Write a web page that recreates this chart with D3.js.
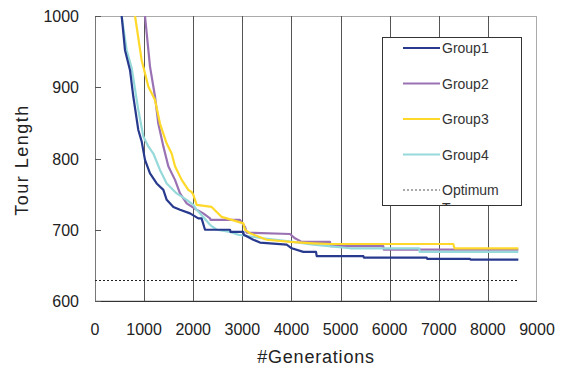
<html>
  <head>
    <script src="https://cdnjs.cloudflare.com/ajax/libs/d3/7.8.5/d3.min.js"></script>
    <style>
      body { margin: 0; background: #fff; }
      text { font-family: "Liberation Sans", Arial, sans-serif; fill: #222; }
    </style>
  </head>
  <body>
    <svg id="chart" width="565" height="369"></svg>
    <script>
      // [generation, tour length]
      let group1 = [[543,1000],[611,952],[713,924],[780,887],[882,840],[950,824],[1018,798],[1120,779],[1256,765],[1392,756],[1460,742],[1596,732],[1731,728],[1935,723],[2104,716],[2170,716],[2240,700],[2749,700],[2760,697],[3020,697],[3030,693],[3224,686],[3360,682],[3903,679],[4005,674],[4242,669],[4500,669],[4515,663],[5465,663],[5475,661],[6754,661],[6764,659],[7636,659],[7646,658],[8620,658]];
      let group2 = [[1018,1000],[1120,929],[1222,887],[1289,849],[1392,817],[1493,789],[1629,770],[1731,751],[1867,737],[2071,728],[2205,723],[2342,716],[2352,714],[2952,714],[3054,704],[3088,696],[3970,694],[4072,688],[4209,683],[4785,683],[4795,677],[5870,677],[5880,672],[8620,672]];
      let group3 = [[815,1000],[950,938],[1086,901],[1222,882],[1323,849],[1460,821],[1561,807],[1629,789],[1765,770],[1900,756],[1968,753],[2002,749],[2071,735],[2376,732],[2478,725],[2580,718],[3020,709],[3054,700],[3156,695],[3495,686],[3970,683],[4445,681],[4785,680],[7296,680],[7320,674],[8620,674]];
      let group4 = [[543,1000],[645,952],[747,927],[882,868],[984,831],[1086,817],[1188,807],[1323,784],[1460,765],[1663,751],[1867,742],[2002,735],[2071,728],[2205,718],[2342,707],[2478,700],[2749,697],[2918,693],[3427,688],[4038,683],[4445,679],[5193,674],[6600,674],[6612,669],[8620,669]];
      let optimum = 629;
      let optimumRange = [0, 8620];

      let seriesNames = ["Group1", "Group2", "Group3", "Group4"];
      let seriesColors = ["#283a8e", "#9a72b4", "#ffd92a", "#96d9da"];
      let xTicks = [0,1000,2000,3000,4000,5000,6000,7000,8000,9000];
      let yTicks = [600,700,800,900,1000];

      var svg = d3.select("#chart");
      var x = d3.scaleLinear().domain([0, 9000]).range([95, 537]);
      var y = d3.scaleLinear().domain([600, 1000]).range([301, 16]);

      // plot frame
      svg.append("rect")
        .attr("x", 95.5).attr("y", 16.5)
        .attr("width", 441).attr("height", 284.5)
        .style("fill", "none").style("stroke", "#aaa");

      // vertical grid
      svg.selectAll("line.grid")
        .data(xTicks.slice(1, -1))
        .enter().append("line")
        .attr("class", "grid")
        .attr("x1", d => Math.round(x(d)) + 0.5).attr("x2", d => Math.round(x(d)) + 0.5)
        .attr("y1", 16).attr("y2", 301)
        .style("stroke", "#555");

      // axes lines
      svg.append("line").attr("x1", 95.5).attr("x2", 95.5).attr("y1", 16).attr("y2", 301)
        .style("stroke", "#777");
      svg.append("line").attr("x1", 95).attr("x2", 537).attr("y1", 301.5).attr("y2", 301.5)
        .style("stroke", "#333");

      // y ticks pointing inward
      svg.selectAll("line.ytick")
        .data(yTicks)
        .enter().append("line")
        .attr("x1", 95).attr("x2", 101)
        .attr("y1", d => Math.round(y(d)) + 0.5).attr("y2", d => Math.round(y(d)) + 0.5)
        .style("stroke", "#555");

      svg.selectAll("text.ylab")
        .data(yTicks)
        .enter().append("text")
        .attr("x", 79).attr("y", d => y(d) + 6)
        .attr("text-anchor", "end")
        .style("font-size", "16px")
        .text(d => d);

      svg.selectAll("text.xlab")
        .data(xTicks)
        .enter().append("text")
        .attr("x", d => x(d)).attr("y", 335)
        .attr("text-anchor", "middle")
        .style("font-size", "16px")
        .text(d => d);

      svg.append("text")
        .attr("x", 316).attr("y", 363)
        .attr("text-anchor", "middle")
        .style("font-size", "18px").style("letter-spacing", "0.8px")
        .text("#Generations");

      svg.append("text")
        .attr("transform", "translate(28,160) rotate(-90)")
        .attr("text-anchor", "middle")
        .style("font-size", "18px").style("letter-spacing", "1.5px")
        .text("Tour Length");

      // optimum line
      svg.append("line")
        .attr("x1", x(optimumRange[0])).attr("x2", x(optimumRange[1]))
        .attr("y1", Math.round(y(optimum)) + 0.5).attr("y2", Math.round(y(optimum)) + 0.5)
        .style("stroke", "#222").style("stroke-dasharray", "2,2");

      svg.append("clipPath").attr("id", "plotclip")
        .append("rect").attr("x", 95).attr("y", 15).attr("width", 442).attr("height", 286);

      var line = d3.line()
        .x(d => x(d[0]))
        .y(d => y(d[1]));

      var allSeries = [group1, group2, group3, group4];
      [1, 3, 2, 0].forEach(i => {
        svg.append("path")
          .attr("d", line(allSeries[i]))
          .attr("clip-path", "url(#plotclip)")
          .style("fill", "none")
          .style("stroke", seriesColors[i])
          .style("stroke-width", 2.2)
          .style("stroke-linejoin", "round");
      });

      // legend
      var lg = svg.append("g");
      lg.append("clipPath").attr("id", "legclip")
        .append("rect").attr("x", 382).attr("y", 37).attr("width", 140).attr("height", 169);
      lg.append("rect")
        .attr("x", 382.5).attr("y", 37.5).attr("width", 139).attr("height", 168)
        .style("fill", "#fff").style("stroke", "#333");

      var rows = seriesNames.map((n, i) => ({name: n, color: seriesColors[i], dash: null}));
      rows.push({name: "Optimum", color: "#555", dash: "2,2"});

      rows.forEach((r, i) => {
        var cy = 48 + i * 35.5;
        lg.append("line")
          .attr("x1", 403).attr("x2", 440)
          .attr("y1", cy).attr("y2", cy)
          .style("stroke", r.color)
          .style("stroke-width", r.dash ? 1 : 2.2)
          .style("stroke-dasharray", r.dash);
        lg.append("text")
          .attr("x", 442).attr("y", cy + 5)
          .style("font-size", "14px").style("fill", "#333")
          .text(r.name);
      });
      lg.append("text")
        .attr("x", 442).attr("y", 48 + 4 * 35.5 + 23)
        .attr("clip-path", "url(#legclip)")
        .style("font-size", "14px").style("fill", "#333")
        .text("Tour");
    </script>
  </body>
</html>
